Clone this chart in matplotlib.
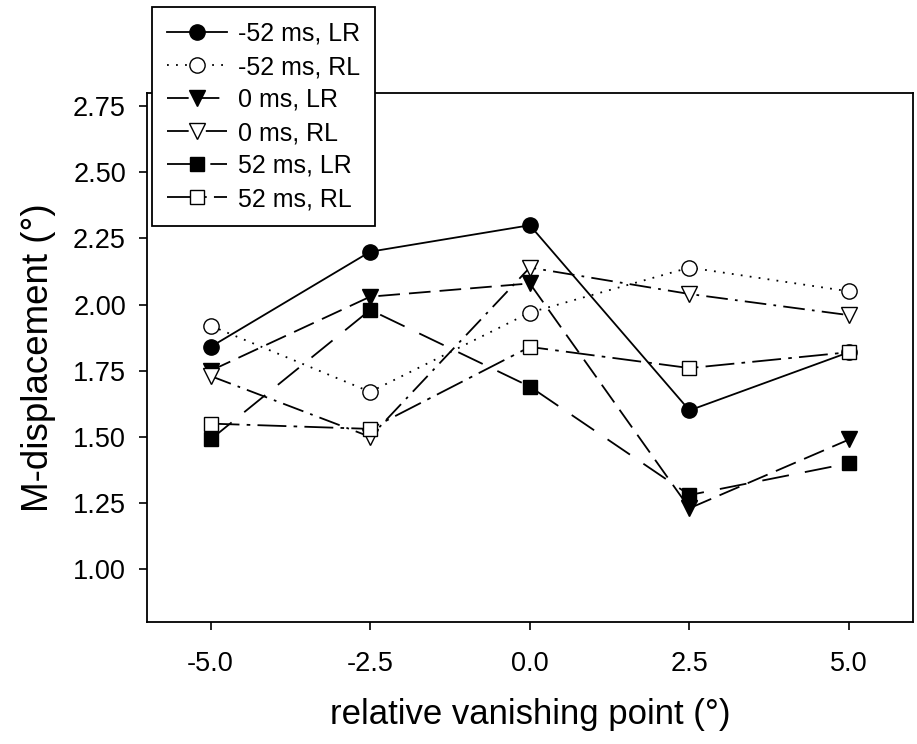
import matplotlib.pyplot as plt

plt.rcParams['font.family'] = ['Liberation Sans', 'DejaVu Sans']

# relative vanishing point (deg)
vp = [-5.0, -2.5, 0.0, 2.5, 5.0]

neg52_lr = [1.84, 2.20, 2.30, 1.60, 1.82]
neg52_rl = [1.92, 1.67, 1.97, 2.14, 2.05]
zero_lr = [1.75, 2.03, 2.08, 1.23, 1.49]
zero_rl = [1.73, 1.50, 2.14, 2.04, 1.96]
pos52_lr = [1.49, 1.98, 1.69, 1.28, 1.40]
pos52_rl = [1.55, 1.53, 1.84, 1.76, 1.82]

labels = ['-52 ms, LR', '-52 ms, RL', '0 ms, LR', '0 ms, RL', '52 ms, LR', '52 ms, RL']

fig = plt.figure(figsize=(9.17, 7.44), dpi=100)
ax = fig.add_axes([0.160, 0.164, 0.8356, 0.711])

lw = 1.3
ax.plot(vp, neg52_lr, color='black', lw=lw, ls='-', marker='o', ms=11,
        mfc='black', mec='black', label=labels[0])
ax.plot(vp, neg52_rl, color='black', lw=lw, ls=(0, (1, 4)), marker='o', ms=11,
        mfc='white', mec='black', label=labels[1])
ax.plot(vp, zero_lr, color='black', lw=lw, ls=(0, (12, 5)), marker='v', ms=11,
        mfc='black', mec='black', label=labels[2])
ax.plot(vp, zero_rl, color='black', lw=lw, ls=(0, (12, 4, 1.5, 4)), marker='v', ms=11,
        mfc='white', mec='black', label=labels[3])
ax.plot(vp, pos52_lr, color='black', lw=lw, ls=(0, (15, 9)), marker='s', ms=9.5,
        mfc='black', mec='black', label=labels[4])
ax.plot(vp, pos52_rl, color='black', lw=lw, ls=(0, (16, 4, 2, 4)), marker='s', ms=9.5,
        mfc='white', mec='black', label=labels[5])

ax.set_xlim(-6, 6)
ax.set_ylim(0.8, 2.8)
ax.set_xticks(vp)
ax.set_xticklabels([f'{v:.1f}' for v in vp])
ax.set_yticks([1.00, 1.25, 1.50, 1.75, 2.00, 2.25, 2.50, 2.75])
ax.set_yticklabels(['1.00', '1.25', '1.50', '1.75', '2.00', '2.25', '2.50', '2.75'])
ax.tick_params(axis='both', labelsize=19.5, direction='out', length=6, width=1.2,
               top=False, right=False)
ax.tick_params(axis='x', pad=15)
ax.tick_params(axis='y', pad=9)
for s in ax.spines.values():
    s.set_linewidth(1.3)

ax.set_xlabel('relative vanishing point (°)', fontsize=25, labelpad=15)
ax.set_ylabel('M-displacement (°)', fontsize=26.5, labelpad=12)

leg = ax.legend(loc='upper left', bbox_to_anchor=(152 / 917, 1 - 7 / 744),
                bbox_transform=fig.transFigure, borderaxespad=0,
                fontsize=18, handlelength=2.4, handletextpad=0.45, fancybox=False,
                framealpha=1, edgecolor='black', labelspacing=0.36, borderpad=0.6)
leg.get_frame().set_linewidth(1.3)

fig.savefig('out.png', dpi=100)
